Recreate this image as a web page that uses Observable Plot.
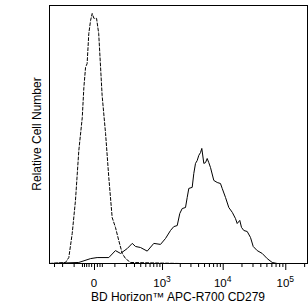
<!DOCTYPE html>
<html>
<head>
<meta charset="utf-8">
<script src="https://cdn.jsdelivr.net/npm/d3@7"></script>
<script src="https://cdn.jsdelivr.net/npm/@observablehq/plot@0.6"></script>
<style>
  html, body { margin: 0; padding: 0; background: #fff; }
  #chart svg { display: block; }
</style>
</head>
<body>
<div id="chart"></div>
<script>
// Isotype control (dashed) histogram: fluorescence value, relative count
const isoX = [-379, -171, -141, -114, -91, -70, -51, -43, -35, -28, -21, -14, -8, -2, 7, 15, 29, 45, 62, 82, 104, 129, 159, 191, 247, 2018, 222000];
const isoY = [0, 0.4, 2.3, 11.6, 24.4, 43.8, 56.6, 68.2, 76.0, 77.5, 89.1, 94.2, 96.9, 95.0, 95.0, 89.1, 65.1, 50.4, 33.3, 17.8, 14.0, 8.9, 3.9, 1.9, 0.4, 0, 0];

// CD279 stained (solid) histogram
const cd279X = [-379, -70, -14, 9, 62, 104, 144, 209, 269, 315, 396, 532, 702, 922, 1126, 1371, 1559, 1778, 1965, 2154, 2442, 2605, 2768, 3147, 3343, 3564, 3798, 4032, 4300, 4514, 4866, 5185, 5520, 5857, 6243, 7060, 8010, 9040, 9640, 10890, 12300, 14010, 15750, 16770, 18450, 19640, 21390, 24250, 27360, 30240, 35020, 42100, 50580, 60760, 73000];
const cd279Y = [0, 0.4, 1.9, 2.3, 2.3, 5.0, 3.9, 5.8, 7.8, 6.6, 6.2, 4.8, 7.8, 7.4, 9.7, 12.8, 14.3, 14.7, 19.4, 21.3, 21.7, 25.6, 29.1, 29.5, 34.9, 38.8, 39.9, 41.9, 43.0, 44.6, 38.8, 39.1, 40.7, 39.1, 37.2, 32.2, 31.4, 31.0, 29.1, 25.6, 21.7, 19.8, 17.4, 15.5, 16.7, 14.0, 12.8, 12.4, 10.1, 6.6, 5.0, 3.9, 1.9, 0.4, 0];

// Axis ticks
const majorTicks = [0, 1000, 10000, 100000];
const majorLabels = [{base: "0", exp: ""}, {base: "10", exp: "3"}, {base: "10", exp: "4"}, {base: "10", exp: "5"}];
const minorTicks = [-300, -200, -100, -50, -40, -30, -20, -10, 10, 20, 30,
  100, 200, 300, 400, 500, 600, 700, 800, 900,
  2000, 3000, 4000, 5000, 6000, 7000, 8000, 9000,
  20000, 30000, 40000, 50000, 60000, 70000, 80000, 90000, 200000];
const xTitle = "BD Horizon™ APC-R700 CD279";
const yTitle = "Relative Cell Number";

const iso = isoX.map((x, i) => ({x, y: isoY[i]}));
const cd279 = cd279X.map((x, i) => ({x, y: cd279Y[i]}));

const FONT = "'Liberation Sans', Arial, Helvetica, sans-serif";

const plot = Plot.plot({
  width: 308,
  height: 306,
  marginLeft: 49,
  marginRight: 1,
  marginTop: 5,
  marginBottom: 43,
  style: {fontFamily: FONT, background: "#fff", color: "#000"},
  x: {type: "symlog", constant: 90, domain: [-379, 222000]},
  y: {domain: [0, 100], axis: null},
  marks: [
    Plot.line(iso, {x: "x", y: "y", stroke: "#000", strokeWidth: 1, strokeDasharray: "3,2"}),
    Plot.line(cd279, {x: "x", y: "y", stroke: "#000", strokeWidth: 1}),
    Plot.axisX({ticks: minorTicks, tickSize: 4, tickFormat: () => "", label: null, stroke: "#000"}),
    Plot.axisX({ticks: majorTicks, tickSize: 7, tickFormat: () => "", label: null, stroke: "#000"}),
    Plot.frame({stroke: "#000", strokeWidth: 1})
  ]
});

document.getElementById("chart").appendChild(plot);

const svg = d3.select(plot);
const xs = plot.scale("x");
majorTicks.forEach((v, i) => {
  const t = svg.append("text")
    .attr("x", xs.apply(v))
    .attr("y", 287)
    .attr("text-anchor", "middle")
    .attr("font-family", FONT)
    .attr("font-size", 11.5)
    .attr("fill", "#000");
  t.append("tspan").text(majorLabels[i].base);
  if (majorLabels[i].exp) {
    t.append("tspan").attr("font-size", 8.5).attr("dy", -5).text(majorLabels[i].exp);
  }
});

svg.append("text")
  .attr("x", (49 + 307) / 2)
  .attr("y", 301)
  .attr("text-anchor", "middle")
  .attr("font-family", FONT)
  .attr("font-size", 12)
  .attr("fill", "#000")
  .text(xTitle);

svg.append("text")
  .attr("transform", "translate(41,134) rotate(-90)")
  .attr("text-anchor", "middle")
  .attr("font-family", FONT)
  .attr("font-size", 12)
  .attr("fill", "#000")
  .text(yTitle);
</script>
</body>
</html>
